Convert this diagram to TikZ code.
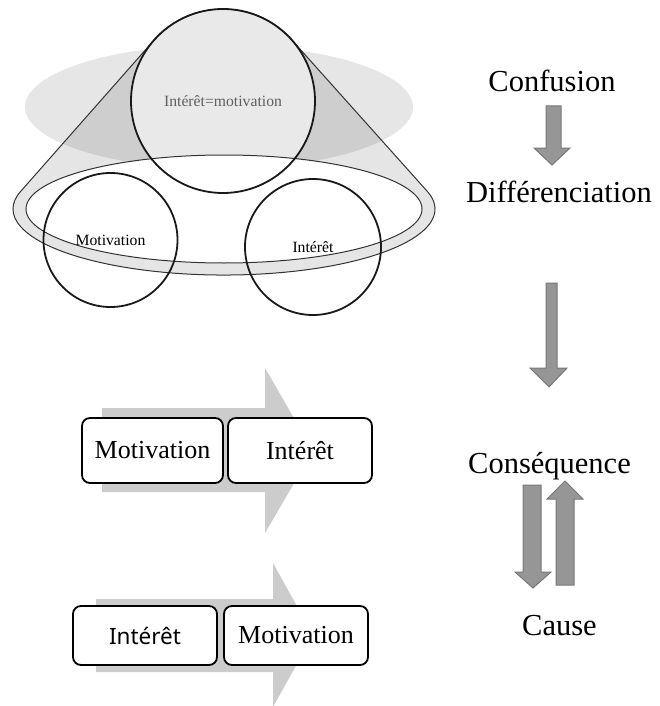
\documentclass[tikz,border=0pt]{standalone}
\usepackage{fontspec}
\setmainfont{Liberation Serif}
\newfontfamily\notosans{Noto Sans}
\definecolor{arrowfill}{RGB}{150,150,150}
\definecolor{arrowedge}{RGB}{120,120,120}
\definecolor{bigfill}{RGB}{204,204,204}
\definecolor{ellfill}{RGB}{230,230,230}
\definecolor{circfill}{RGB}{233,233,233}
\definecolor{labgray}{RGB}{95,95,95}
\begin{document}
\begin{tikzpicture}[x=1pt,y=-1pt,
  lbl/.style={font=\fontsize{30.5}{36}\selectfont, anchor=base, inner sep=0pt},
  dblock/.style={fill=arrowfill, draw=arrowedge, line width=1pt},
  bigarrow/.style={fill=bigfill},
  stagebox/.style={draw=black, line width=1.8pt, rounded corners=8pt, fill=white, inner sep=0pt, font=\fontsize{26}{30}\selectfont},
  ringcirc/.style={circle, draw=black!90, line width=1.8pt, inner sep=0pt, font=\fontsize{15.7}{18}\selectfont},
  conedge/.style={draw=black!80, line width=1pt}
]
\useasboundingbox (0,0) rectangle (660,706);
\clip (0,0) rectangle (660,706);

% ---------- top figure ----------
\fill[ellfill] (219,107) ellipse[x radius=194, y radius=62];
\fill[black, fill opacity=0.1] (154,40.2) arc[start angle=221.4, end angle=318.6, radius=92]
  -- (427.4,191.5) arc[start angle=-15.4, end angle=195.4, x radius=211, y radius=66] -- cycle;
\fill[circfill] (223,101) circle[radius=92];
\draw[conedge, fill=white] (224,209) ellipse[x radius=198, y radius=54];
\draw[conedge] (154,40.2) arc[start angle=221.4, end angle=318.6, radius=92]
  -- (427.4,191.5) arc[start angle=-15.4, end angle=195.4, x radius=211, y radius=66] -- cycle;
\node[ringcirc, minimum size=184pt, text=labgray] (eq) at (223,101) {Intérêt=motivation};
\node[ringcirc, minimum size=134pt] (mot) at (110.5,240) {Motivation};
\node[ringcirc, minimum size=136pt] (int) at (313,247) {Intérêt};

% ---------- right column ----------
\node[lbl] (conf) at (552,92) {Confusion};
\node[lbl] (diff) at (559,202) {Différenciation};
\node[lbl] (cons) at (549.5,473) {Conséquence};
\node[lbl] (cause) at (559.5,635) {Cause};

\draw[dblock] (546,106) -- (561,106) -- (561,148) -- (570,148) -- (552,165) -- (534,148) -- (546,148) -- cycle;
\draw[dblock] (546,283) -- (557,283) -- (557,368) -- (567,368) -- (549,387) -- (530,368) -- (546,368) -- cycle;
\draw[dblock] (523,485) -- (541,485) -- (541,572) -- (551,572) -- (533,588) -- (515,572) -- (523,572) -- cycle;
\draw[dblock] (556,585) -- (574,585) -- (574,499) -- (583,499) -- (565,481) -- (547,499) -- (556,499) -- cycle;

% ---------- bottom left ----------
\fill[bigarrow] (102,408) -- (265,408) -- (265,368) -- (313,451) -- (265,533) -- (265,492) -- (102,492) -- cycle;
\node[stagebox, minimum width=141pt, minimum height=65pt] (b1) at (152.5,450.5) {Motivation};
\node[stagebox, minimum width=144pt, minimum height=65pt] (b2) at (300,450.5) {Intérêt};

\fill[bigarrow] (96,599) -- (273,599) -- (273,563) -- (313,635) -- (273,707) -- (273,672) -- (96,672) -- cycle;
\node[stagebox, minimum width=144pt, minimum height=59pt, font=\notosans\fontsize{22.5}{26}\selectfont] (b3) at (145,635.5) {Intérêt};
\node[stagebox, minimum width=144pt, minimum height=59pt] (b4) at (296,635.5) {Motivation};
\end{tikzpicture}
\end{document}
